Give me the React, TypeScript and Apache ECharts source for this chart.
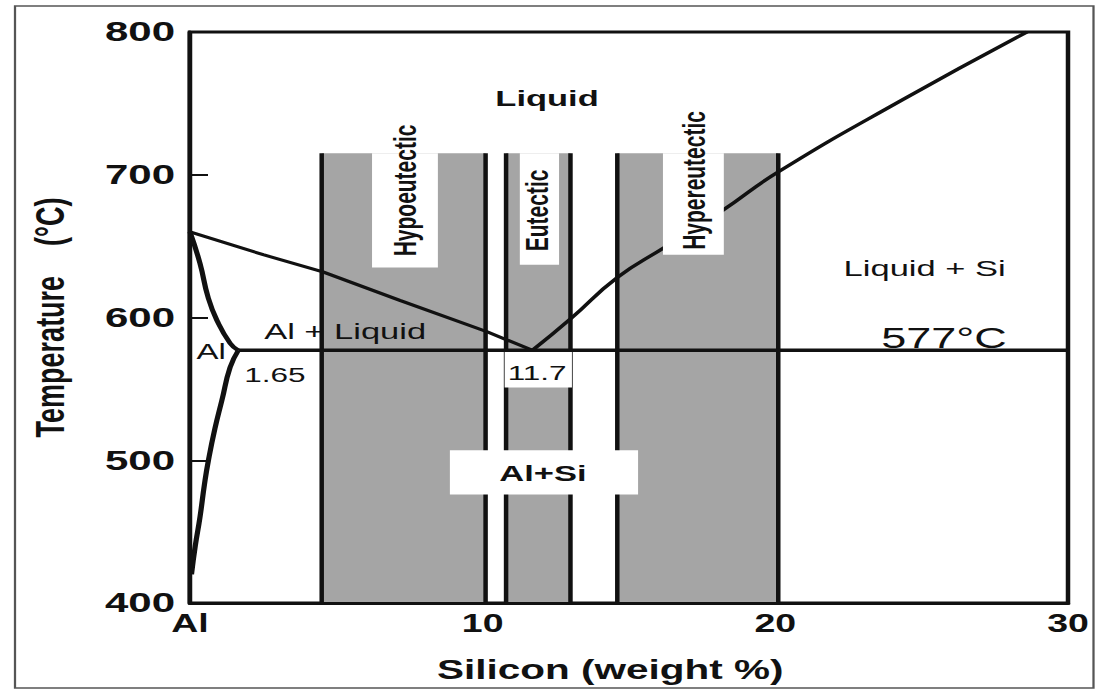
import React, { useEffect, useRef } from "react";
import * as echarts from "echarts";

// ---- axes ----
const xTicks = [0, 10, 20, 30];
const xTickLabels = ["Al", "10", "20", "30"];
const yTicks = [400, 500, 600, 700, 800];

// ---- phase boundaries (wt% Si, °C) ----
const liquidusHypo = [[0, 660], [2.5, 644], [4.54, 632], [7.17, 612], [10.15, 590], [11.7, 577]];
const liquidusHyper = [[11.7, 577], [13, 599], [14.6, 628], [16.2, 649], [18.2, 675], [20.1, 702], [24.3, 752], [28.6, 800]];
const solidus = [[0, 660], [0.34, 638], [0.62, 614], [0.92, 598], [1.37, 582], [1.65, 577]];
const solvus = [[1.65, 577], [1.37, 565], [1.09, 542], [0.85, 522], [0.63, 500], [0.5, 484], [0.34, 460], [0.18, 440], [0.05, 420]];
const eutecticLine = [[1.65, 577], [30, 577]];

// ---- composition bands ----
const bandNames = ["Hypoeutectic", "Eutectic", "Hypereutectic"];
const bandStart = [4.5, 10.8, 14.6];
const bandEnd = [10.1, 13.0, 20.1];
const bandTop = 715;
const bandBottom = 400;

// ---- white label boxes (wt% Si from/to, °C from/to) ----
const boxX0 = [6.22, 11.27, 16.16, 10.75, 8.88];
const boxX1 = [8.47, 12.61, 18.24, 13.05, 15.31];
const boxTTop = [715, 715, 715, 577, 507];
const boxTBottom = [635, 637, 644, 551, 476];

// ---- annotation texts (anchored in data coordinates) ----
const labelTexts = ["Liquid", "Al + Liquid", "Liquid + Si", "577°C", "1.65", "11.7", "Al+Si", "Al", "Hypoeutectic", "Eutectic", "Hypereutectic"];
const labelX = [12.2, 5.3, 25.1, 25.76, 2.9, 11.86, 12.06, 0.72, 7.35, 11.86, 17.25];
const labelT = [754, 591, 635, 586, 560, 561, 491, 576, 689, 675, 696];

// ---- styles (kept apart from the data) ----
const FONT = '"Liberation Sans", Arial, Helvetica, sans-serif';
const INK = "#111";
const GRAY = "#a5a5a5";
const SX = 1.5; // horizontal stretch of the original scan
const labelStyles = [
  { size: 23, weight: "bold", rot: 0 },
  { size: 23, weight: "normal", rot: 0 },
  { size: 23, weight: "normal", rot: 0 },
  { size: 30, weight: "normal", rot: 0 },
  { size: 21, weight: "normal", rot: 0 },
  { size: 21, weight: "normal", rot: 0 },
  { size: 23, weight: "bold", rot: 0 },
  { size: 22, weight: "normal", rot: 0 },
  { size: 21, weight: "bold", rot: Math.PI / 2 },
  { size: 21, weight: "bold", rot: Math.PI / 2 },
  { size: 21, weight: "bold", rot: Math.PI / 2 },
];

const W = 1096 / SX;
const H = 691;

export default function App() {
  const ref = useRef<HTMLDivElement>(null);
  useEffect(() => {
    if (!ref.current) return;
    const chart = echarts.init(ref.current, null, { renderer: "svg" });

    const lineSeries = (name: string, data: number[][], z: number, width = 3, smooth = false) => ({
      name,
      type: "line",
      data,
      showSymbol: false,
      symbol: "none",
      smooth,
      z,
      lineStyle: { color: INK, width },
      silent: true,
    });

    const edges: number[][] = [];
    bandStart.forEach((s, i) => {
      edges.push([s, bandTop, bandBottom]);
      edges.push([bandEnd[i], bandTop, bandBottom]);
    });

    chart.setOption({
      animation: false,
      backgroundColor: "#fff",
      grid: {
        left: 190 / SX,
        top: 32,
        width: 878 / SX,
        height: 571,
        show: true,
        borderColor: INK,
        borderWidth: 3,
      },
      xAxis: {
        type: "value",
        min: 0,
        max: 30,
        interval: 10,
        z: 10,
        axisLine: { show: true, lineStyle: { color: INK, width: 3 } },
        axisTick: { show: false },
        splitLine: { show: false },
        axisLabel: {
          formatter: (v: number) => {
            const k = xTicks.indexOf(v);
            return k >= 0 ? xTickLabels[k] : String(v);
          },
          fontSize: 25,
          fontWeight: "bold",
          fontFamily: FONT,
          color: INK,
          margin: 8,
        },
        name: "Silicon (weight %)",
        nameLocation: "middle",
        nameGap: 53,
        nameTextStyle: { fontSize: 27, fontWeight: "bold", fontFamily: FONT, color: INK, padding: [0, 25, 0, 0] },
      },
      yAxis: {
        type: "value",
        min: yTicks[0],
        max: yTicks[yTicks.length - 1],
        interval: 100,
        z: 10,
        axisLine: { show: true, lineStyle: { color: INK, width: 3 } },
        axisTick: { show: true, inside: true, length: 12, lineStyle: { color: INK, width: 2 } },
        splitLine: { show: false },
        axisLabel: { fontSize: 28, fontWeight: "bold", fontFamily: FONT, color: INK, margin: 10 },
        name: "Temperature    (°C)",
        nameLocation: "middle",
        nameRotate: 90,
        nameGap: 80,
        nameTextStyle: { fontSize: 27, fontWeight: "bold", fontFamily: FONT, color: INK },
      },
      graphic: [
        {
          type: "rect",
          silent: true,
          z: -1,
          shape: { x: 10, y: 6, width: 719, height: 682 },
          style: { fill: "none", stroke: "#555", lineWidth: 1.5 },
        },
      ],
      series: [
        {
          name: "bands",
          type: "custom",
          z: 1,
          silent: true,
          data: bandStart.map((s, i) => [s, bandEnd[i], bandTop, bandBottom, i]),
          renderItem: (_p: any, api: any) => {
            const a = api.coord([api.value(0), api.value(2)]);
            const b = api.coord([api.value(1), api.value(3)]);
            return {
              type: "rect",
              shape: { x: a[0], y: a[1], width: b[0] - a[0], height: b[1] - a[1] },
              style: { fill: GRAY },
            };
          },
        },
        {
          name: "band edges",
          type: "custom",
          z: 2,
          silent: true,
          data: edges,
          renderItem: (_p: any, api: any) => {
            const a = api.coord([api.value(0), api.value(1)]);
            const b = api.coord([api.value(0), api.value(2)]);
            return {
              type: "line",
              shape: { x1: a[0], y1: a[1], x2: b[0], y2: b[1] },
              style: { stroke: INK, lineWidth: 3 },
            };
          },
        },
        lineSeries("liquidus (hypo)", liquidusHypo, 3),
        lineSeries("liquidus (hyper)", liquidusHyper, 3, 3, true),
        lineSeries("solidus", solidus, 3, 3.5, true),
        lineSeries("solvus", solvus, 3, 3.5, true),
        {
          name: "boxes",
          type: "custom",
          z: 4,
          silent: true,
          data: boxX0.map((x0, i) => [x0, boxX1[i], boxTTop[i], boxTBottom[i]]),
          renderItem: (_p: any, api: any) => {
            const a = api.coord([api.value(0), api.value(2)]);
            const b = api.coord([api.value(1), api.value(3)]);
            return {
              type: "rect",
              shape: { x: a[0], y: a[1], width: b[0] - a[0], height: b[1] - a[1] },
              style: { fill: "#fff" },
            };
          },
        },
        lineSeries("eutectic 577", eutecticLine, 5, 3.5),
        {
          name: "labels",
          type: "custom",
          z: 6,
          silent: true,
          data: labelTexts.map((_t, i) => [labelX[i], labelT[i], i]),
          renderItem: (_p: any, api: any) => {
            const p = api.coord([api.value(0), api.value(1)]);
            const i = api.value(2);
            const st = labelStyles[i];
            return {
              type: "text",
              x: p[0],
              y: p[1],
              rotation: st.rot,
              style: {
                text: labelTexts[i],
                fontSize: st.size,
                fontWeight: st.weight,
                fontFamily: FONT,
                fill: INK,
                align: "center",
                verticalAlign: "middle",
              },
            };
          },
        },
      ],
    });
    return () => chart.dispose();
  }, []);

  return (
    <div
      style={{
        position: "absolute",
        left: 0,
        top: 0,
        width: 1096,
        height: H,
        overflow: "hidden",
        background: "#fff",
      }}
    >
      <div
        ref={ref}
        style={{
          width: W,
          height: H,
          transform: `scaleX(${SX})`,
          transformOrigin: "0 0",
        }}
      />
    </div>
  );
}
